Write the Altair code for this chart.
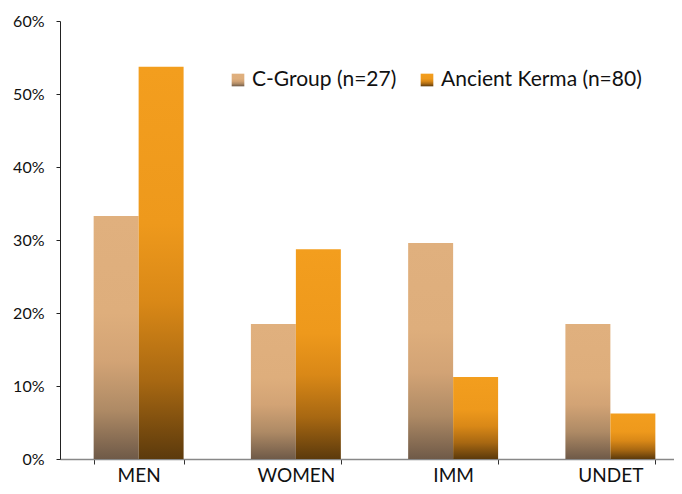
import altair as alt
import pandas as pd

categories = ["MEN", "WOMEN", "IMM", "UNDET"]
series = ["C-Group (n=27)", "Ancient Kerma (n=80)"]
cgroup = [33.3, 18.5, 29.6, 18.5]
kerma = [53.75, 28.75, 11.25, 6.25]

rows = []
for c, a, b in zip(categories, cgroup, kerma):
    rows.append({"cat": c, "series": series[0], "value": a})
    rows.append({"cat": c, "series": series[1], "value": b})
df = pd.DataFrame(rows)
leg = pd.DataFrame({"series": series, "lx": [178, 367]})

def grad(cols):
    offs = [0, 0.4, 0.6, 0.8, 1]
    return alt.LinearGradient(
        gradient="linear", x1=0, x2=0, y1=0, y2=1,
        stops=[alt.GradientStop(color=c, offset=o) for c, o in zip(cols, offs)])

g_c = grad(["#E0B07E", "#DEAE7C", "#D2A375", "#AE8A65", "#6F5A48"])
g_k = grad(["#F39E1E", "#EE991C", "#D98817", "#A86812", "#5C3A0C"])

xenc = alt.X("cat:N", sort=categories, title=None,
             scale=alt.Scale(range=[0, 629], paddingInner=0.428, paddingOuter=0.214),
             axis=alt.Axis(labelAngle=0, labelFont="Lato", labelFontSize=19,
                           labelColor="#111", labelPadding=2, tickBand="extent",
                           tickSize=5, tickColor="#333", domainColor="#888",
                           domainWidth=1.5))
yenc = alt.Y("value:Q", title=None,
             scale=alt.Scale(domain=[0, 60], nice=False),
             axis=alt.Axis(values=[0, 10, 20, 30, 40, 50, 60],
                           labelExpr="datum.value + '%'", grid=False,
                           labelFont="Lato", labelFontSize=16, labelColor="#111",
                           labelPadding=12, tickSize=4, tickColor="#222",
                           domainColor="#222"))
xoff = alt.XOffset("series:N", scale=alt.Scale(domain=series, paddingInner=0, paddingOuter=0))

base = alt.Chart(df)
bars_c = base.transform_filter(alt.datum.series == series[0]).mark_bar(color=g_c).encode(
    x=xenc, y=yenc, xOffset=xoff)
bars_k = base.transform_filter(alt.datum.series == series[1]).mark_bar(color=g_k).encode(
    x=xenc, y=yenc, xOffset=xoff)

lbase = alt.Chart(leg)
sq_c = lbase.transform_filter(alt.datum.series == series[0]).mark_square(
    size=160, color=g_c, opacity=1).encode(x=alt.X("lx:Q", scale=None), y=alt.value(59))
sq_k = lbase.transform_filter(alt.datum.series == series[1]).mark_square(
    size=160, color=g_k, opacity=1).encode(x=alt.X("lx:Q", scale=None), y=alt.value(59))
txt = lbase.mark_text(align="left", baseline="middle", font="Lato", fontSize=21,
                      color="#111", dx=14).encode(
    x=alt.X("lx:Q", scale=None), y=alt.value(59), text="series:N")

chart = alt.layer(bars_c, bars_k, sq_c, sq_k, txt).properties(
    width=614, height=438,
    autosize=alt.AutoSizeParams(type="none"),
    padding={"left": 52, "top": 13, "right": 0, "bottom": 27},
).configure_view(stroke=None)

chart.save("out.html", embed_options={"renderer": "svg", "actions": False})
